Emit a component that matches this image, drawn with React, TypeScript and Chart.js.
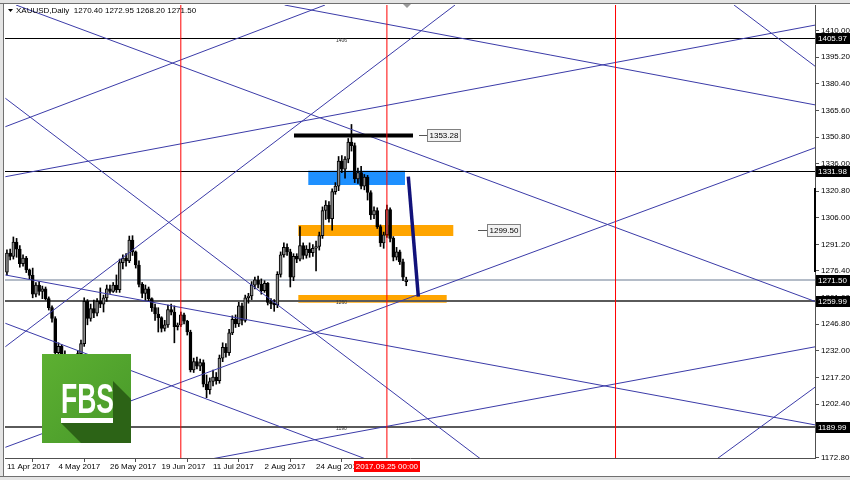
import React, { useEffect, useRef } from 'react';
import { Chart, registerables } from 'chart.js';

Chart.register(...registerables);

// ---------- data ----------
const titleText = 'XAUUSD,Daily  1270.40 1272.95 1268.20 1271.50';
const dateTickIdx = [0, 16, 32, 48, 64, 80, 96];
const dateTickLabels = ['11 Apr 2017', '4 May 2017', '26 May 2017', '19 Jun 2017', '11 Jul 2017', '2 Aug 2017', '24 Aug 2017'];
const priceTicks = [1410.0, 1395.2, 1380.4, 1365.6, 1350.8, 1336.0, 1320.8, 1306.0, 1291.2, 1276.4, 1261.6, 1246.8, 1232.0, 1217.2, 1202.4, 1187.6, 1172.8];
const crosshairLabel = '2017.09.25 00:00';
const crosshairIdx = 118;

const opens = [
  1275.8, 1286.4, 1284.5, 1292.5, 1288.5, 1280.5, 1283.5, 1277.0, 1274.0, 1263.5,
  1268.5, 1265.0, 1266.5, 1261.0, 1256.0, 1250.0, 1231.0, 1234.5, 1229.0, 1226.0,
  1220.0, 1217.0, 1221.5, 1230.5, 1236.0, 1259.5, 1250.0, 1255.5, 1253.0, 1259.5,
  1258.0, 1261.5, 1266.5, 1265.0, 1268.5, 1266.0, 1281.0, 1283.5, 1282.0, 1293.5,
  1287.0, 1279.7, 1269.0, 1264.0, 1266.5, 1261.0, 1256.0, 1252.5, 1250.5, 1244.5,
  1246.5, 1255.0, 1253.5, 1245.5, 1246.4, 1252.0, 1248.5, 1242.5, 1221.5, 1226.0,
  1223.5, 1225.5, 1213.5, 1210.5, 1215.0, 1217.5, 1215.5, 1228.0, 1234.0, 1231.0,
  1242.0, 1249.5, 1247.0, 1257.0, 1249.0, 1261.5, 1262.5, 1268.5, 1271.5, 1269.0,
  1265.5, 1269.5, 1259.0, 1258.5, 1257.5, 1274.5, 1285.3, 1289.5, 1287.0, 1273.0,
  1284.5, 1283.0, 1290.5, 1285.0, 1288.5, 1286.5, 1289.0, 1290.0, 1296.0, 1310.0,
  1313.0, 1305.5, 1320.5, 1323.5, 1337.5, 1333.0, 1338.5, 1348.0, 1346.0, 1327.5,
  1331.0, 1323.5, 1328.5, 1320.0, 1307.5, 1310.0, 1301.0, 1292.0, 1296.5, 1310.5,
  1294.5, 1284.0, 1287.0, 1281.5, 1270.4
];
const highs = [
  1288.1, 1288.5, 1295.3, 1294.5, 1290.5, 1285.3, 1284.5, 1277.5, 1278.0, 1270.0,
  1270.5, 1268.0, 1267.5, 1262.0, 1257.0, 1251.0, 1236.5, 1235.5, 1232.0, 1228.0,
  1225.0, 1223.0, 1232.0, 1238.0, 1261.5, 1260.5, 1258.0, 1260.3, 1261.0, 1267.0,
  1263.0, 1268.6, 1268.6, 1270.0, 1274.2, 1283.0, 1285.3, 1286.0, 1295.8, 1296.0,
  1287.5, 1282.0, 1270.0, 1268.6, 1267.5, 1261.5, 1258.0, 1256.0, 1251.0, 1249.0,
  1257.5, 1258.0, 1257.0, 1247.5, 1253.6, 1253.0, 1249.0, 1243.5, 1228.0, 1228.5,
  1227.5, 1227.0, 1218.6, 1217.0, 1221.4, 1220.0, 1229.7, 1236.5, 1236.0, 1244.0,
  1251.5, 1252.0, 1259.0, 1258.5, 1263.0, 1264.0, 1270.5, 1273.0, 1273.5, 1272.0,
  1271.0, 1270.0, 1261.0, 1260.5, 1276.0, 1287.0, 1292.0, 1291.5, 1288.5, 1286.0,
  1286.0, 1301.0, 1292.0, 1290.5, 1292.0, 1291.0, 1293.0, 1298.0, 1312.0, 1315.5,
  1315.0, 1322.0, 1325.5, 1340.0, 1340.5, 1340.0, 1350.0, 1357.8, 1347.5, 1333.5,
  1334.5, 1330.0, 1329.5, 1321.0, 1312.0, 1311.5, 1302.0, 1298.0, 1313.0, 1311.5,
  1295.5, 1289.5, 1288.0, 1283.0, 1272.95
];
const lows = [
  1274.2, 1282.5, 1283.0, 1284.0, 1278.5, 1279.0, 1275.5, 1272.0, 1261.5, 1262.0,
  1263.0, 1261.0, 1260.3, 1254.7, 1248.0, 1229.5, 1228.5, 1227.0, 1224.0, 1218.0,
  1214.0, 1215.5, 1220.0, 1228.5, 1234.5, 1246.5, 1248.5, 1250.5, 1251.5, 1256.0,
  1253.6, 1259.5, 1264.0, 1264.5, 1264.5, 1264.5, 1277.5, 1279.0, 1281.0, 1285.0,
  1278.0, 1267.5, 1261.5, 1260.0, 1259.5, 1254.0, 1249.0, 1242.5, 1242.5, 1243.0,
  1245.0, 1252.0, 1236.5, 1243.6, 1245.5, 1247.0, 1240.8, 1220.3, 1220.0, 1222.0,
  1221.0, 1212.0, 1206.0, 1208.0, 1212.5, 1213.5, 1214.0, 1226.0, 1228.5, 1229.5,
  1241.0, 1245.0, 1245.5, 1246.5, 1248.0, 1258.5, 1260.5, 1266.5, 1267.0, 1263.5,
  1264.5, 1257.5, 1255.5, 1254.0, 1256.0, 1273.0, 1284.0, 1285.0, 1267.5, 1271.0,
  1281.0, 1282.0, 1283.0, 1283.5, 1284.0, 1284.5, 1276.5, 1288.0, 1294.5, 1305.0,
  1303.5, 1299.0, 1319.0, 1321.0, 1331.0, 1328.0, 1336.5, 1343.0, 1325.5, 1325.0,
  1322.0, 1321.5, 1315.8, 1305.0, 1305.5, 1300.0, 1290.0, 1289.0, 1295.0, 1292.5,
  1282.0, 1282.5, 1280.0, 1271.0, 1268.2
];
const closes = [
  1286.4, 1284.5, 1292.5, 1288.5, 1280.5, 1283.5, 1277.0, 1274.0, 1263.5, 1268.5,
  1265.0, 1266.5, 1261.0, 1256.0, 1250.0, 1231.0, 1234.5, 1229.0, 1226.0, 1220.0,
  1217.0, 1221.5, 1230.5, 1236.0, 1259.5, 1250.0, 1255.5, 1253.0, 1259.5, 1258.0,
  1261.5, 1266.5, 1265.0, 1268.5, 1266.0, 1281.0, 1283.5, 1282.0, 1293.5, 1287.0,
  1279.7, 1269.0, 1264.0, 1266.5, 1261.0, 1256.0, 1252.5, 1250.5, 1244.5, 1246.5,
  1255.0, 1253.5, 1245.5, 1246.4, 1252.0, 1248.5, 1242.5, 1221.5, 1226.0, 1223.5,
  1225.5, 1213.5, 1210.5, 1215.0, 1217.5, 1215.5, 1228.0, 1234.0, 1231.0, 1242.0,
  1249.5, 1247.0, 1257.0, 1249.0, 1261.5, 1262.5, 1268.5, 1271.5, 1269.0, 1265.5,
  1269.5, 1259.0, 1258.5, 1257.5, 1274.5, 1285.3, 1289.5, 1287.0, 1273.0, 1284.5,
  1283.0, 1290.5, 1285.0, 1288.5, 1286.5, 1289.0, 1290.0, 1296.0, 1310.0, 1313.0,
  1305.5, 1320.5, 1323.5, 1337.5, 1333.0, 1338.5, 1348.0, 1346.0, 1327.5, 1331.0,
  1323.5, 1328.5, 1320.0, 1307.5, 1310.0, 1301.0, 1292.0, 1296.5, 1310.5, 1294.5,
  1284.0, 1287.0, 1281.5, 1273.0, 1271.5
];

// trend lines: [barIndex1, price1, barIndex2, price2]
const trendLines = [
  [2.82, 1424.16, 251.17, 1259.33],
  [86.23, 1424.16, 251.17, 1368.61],
  [225.8, 1424.16, 251.17, 1389.88],
  [-0.48, 1372.33, 147.54, 1171.38],
  [-0.48, 1356.55, 98.78, 1424.16],
  [-0.48, 1328.77, 251.17, 1413.05],
  [-0.48, 1274.17, 251.17, 1190.83],
  [-0.48, 1247.33, 112.32, 1171.38],
  [-0.48, 1234.33, 139.15, 1424.16],
  [-0.48, 1178.44, 251.17, 1345.0],
  [63.38, 1171.94, 251.17, 1234.33],
  [220.02, 1171.38, 251.17, 1212.11],
];
const verticalLineIdx = [54, 118, 189];
const levelPrices = [1405.97, 1331.98, 1271.5, 1259.99, 1189.99];
// zones: [idxFrom, idxTo, priceLow, priceHigh]
const blueZone = [93.59, 123.62, 1324.16, 1332.11];
const orangeZones = [
  [90.49, 138.62, 1295.83, 1301.94],
  [90.49, 136.57, 1258.77, 1263.05],
];
const peakLine = [89.15, 126.11, 1351.7];
const peakLabel = { text: '1353.28', dashFrom: 127.97, boxAt: 130.46, price: 1351.9 };
const midLabel = { text: '1299.50', dashFrom: 146.3, boxAt: 149.09, price: 1299.16 };
const arrowLine = [124.65, 1328.77, 127.76, 1262.11];
const tinyNotes = [
  { text: '1406', idx: 102.2, price: 1404.6 },
  { text: '1260', idx: 102.2, price: 1258.6 },
  { text: '1190', idx: 102.2, price: 1188.6 },
];

const X_MIN = -0.6;
const X_MAX = 250.95;
const Y_MIN = 1172.5;
const Y_MAX = 1424.16;
const FONT = "'Liberation Sans', Arial, sans-serif";
const FS = 8;

function drawLogo(ctx: CanvasRenderingContext2D) {
  const x0 = 42, y0 = 354, w = 89, h = 89;
  const g = ctx.createLinearGradient(x0, y0, x0 + w, y0 + h);
  g.addColorStop(0, '#5db031');
  g.addColorStop(1, '#47982a');
  ctx.fillStyle = g;
  ctx.fillRect(x0, y0, w, h);
  ctx.fillStyle = '#2c6316';
  ctx.beginPath();
  ctx.moveTo(61, 423);
  ctx.lineTo(113, 423);
  ctx.lineTo(113, 381);
  ctx.lineTo(131, 399);
  ctx.lineTo(131, 443);
  ctx.lineTo(81, 443);
  ctx.closePath();
  ctx.fill();
  ctx.save();
  ctx.font = `bold 43px ${FONT}`;
  ctx.textBaseline = 'alphabetic';
  ctx.textAlign = 'left';
  const m = ctx.measureText('FBS').width;
  ctx.translate(61, 413);
  ctx.scale(53 / m, 1);
  ctx.fillStyle = '#ffffff';
  ctx.fillText('FBS', 0, 0);
  ctx.restore();
  ctx.fillStyle = '#ffffff';
  ctx.fillRect(61, 418, 52, 5);
}

const mt4Plugin = {
  id: 'mt4',
  beforeDraw(chart: any) {
    const ctx = chart.ctx;
    ctx.save();
    ctx.fillStyle = '#ffffff';
    ctx.fillRect(0, 0, 850, 480);
    ctx.fillStyle = '#e4e4e4';
    ctx.fillRect(0, 0, 850, 3);
    ctx.fillRect(0, 0, 3, 480);
    ctx.fillRect(0, 477, 850, 3);
    ctx.strokeStyle = '#707070';
    ctx.lineWidth = 1;
    ctx.beginPath();
    ctx.moveTo(0, 3.5); ctx.lineTo(850, 3.5);
    ctx.moveTo(3.5, 3); ctx.lineTo(3.5, 477);
    ctx.moveTo(0, 476.5); ctx.lineTo(850, 476.5);
    ctx.stroke();
    ctx.restore();
  },
  beforeDatasetsDraw(chart: any) {
    const ctx = chart.ctx;
    const xs = chart.scales.x, ys = chart.scales.y;
    const a = chart.chartArea;
    ctx.save();
    ctx.beginPath();
    ctx.rect(a.left, a.top, a.right - a.left, a.bottom - a.top);
    ctx.clip();
    const rect = (z: number[], color: string) => {
      const x1 = xs.getPixelForValue(z[0]), x2 = xs.getPixelForValue(z[1]);
      const y1 = ys.getPixelForValue(z[3]), y2 = ys.getPixelForValue(z[2]);
      ctx.fillStyle = color;
      ctx.fillRect(x1, y1, x2 - x1, y2 - y1);
    };
    orangeZones.forEach((z) => rect(z, '#ffa500'));
    rect(blueZone, '#1e90ff');
    const styles = [
      { c: '#000000', w: 1 },
      { c: '#000000', w: 1 },
      { c: '#b4bcc8', w: 2 },
      { c: '#5a5a5a', w: 2 },
      { c: '#5a5a5a', w: 2 },
    ];
    levelPrices.forEach((p, k) => {
      const y = ys.getPixelForValue(p);
      const st = styles[k];
      ctx.strokeStyle = st.c;
      ctx.lineWidth = st.w;
      const yy = st.w === 1 ? Math.round(y) + 0.5 : Math.round(y);
      ctx.beginPath();
      ctx.moveTo(a.left, yy);
      ctx.lineTo(a.right, yy);
      ctx.stroke();
    });
    ctx.fillStyle = '#333';
    ctx.font = `5px ${FONT}`;
    ctx.textBaseline = 'middle';
    tinyNotes.forEach((n) => {
      ctx.fillText(n.text, xs.getPixelForValue(n.idx), ys.getPixelForValue(n.price));
    });
    ctx.restore();
  },
  afterDraw(chart: any) {
    const ctx = chart.ctx;
    const xs = chart.scales.x, ys = chart.scales.y;
    ctx.save();
    [peakLabel, midLabel].forEach((L) => {
      const y = Math.round(ys.getPixelForValue(L.price)) + 0.5;
      const xd = xs.getPixelForValue(L.dashFrom);
      const xb = Math.round(xs.getPixelForValue(L.boxAt)) + 0.5;
      ctx.strokeStyle = '#555';
      ctx.lineWidth = 1;
      ctx.beginPath();
      ctx.moveTo(xd, y); ctx.lineTo(xb, y);
      ctx.stroke();
      ctx.font = `${FS}px ${FONT}`;
      const tw = ctx.measureText(L.text).width;
      ctx.fillStyle = '#f2f2f2';
      ctx.fillRect(xb, y - 6, tw + 4, 12);
      ctx.strokeStyle = '#808080';
      ctx.strokeRect(xb, y - 6, tw + 4, 12);
      ctx.fillStyle = '#000';
      ctx.textBaseline = 'middle';
      ctx.textAlign = 'left';
      ctx.fillText(L.text, xb + 2, y + 0.5);
    });
    ctx.font = `${FS}px ${FONT}`;
    ctx.textBaseline = 'middle';
    ctx.textAlign = 'left';
    levelPrices.forEach((p) => {
      const y = Math.round(ys.getPixelForValue(p));
      ctx.fillStyle = '#000';
      ctx.fillRect(816, y - 5, 34, 11);
      ctx.fillStyle = '#fff';
      ctx.fillText(p.toFixed(2), 818, y + 0.5);
    });
    ctx.fillStyle = '#000';
    ctx.fillRect(814, 188, 2, 84);
    const cx = xs.getPixelForValue(crosshairIdx);
    const tw = ctx.measureText(crosshairLabel).width;
    ctx.fillStyle = '#ff0000';
    ctx.fillRect(Math.round(cx - tw / 2 - 2), 461, Math.round(tw + 4), 11);
    ctx.fillStyle = '#fff';
    ctx.textAlign = 'center';
    ctx.fillText(crosshairLabel, cx, 466.5);
    ctx.textAlign = 'left';
    ctx.fillStyle = '#000';
    ctx.beginPath();
    ctx.moveTo(8, 9); ctx.lineTo(13, 9); ctx.lineTo(10.5, 12); ctx.closePath();
    ctx.fill();
    ctx.fillText(titleText, 16, 11);
    ctx.fillStyle = '#9a9a9a';
    ctx.beginPath();
    ctx.moveTo(403, 4); ctx.lineTo(411, 4); ctx.lineTo(407, 8); ctx.closePath();
    ctx.fill();
    drawLogo(ctx);
    ctx.restore();
  },
};

export default function App() {
  const canvasRef = useRef<HTMLCanvasElement | null>(null);

  useEffect(() => {
    if (!canvasRef.current) return;
    const wickData = highs.map((h, i) => ({ x: i, y: [lows[i], h] }));
    const bodyData = opens.map((o, i) => {
      let lo = Math.min(o, closes[i]);
      let hi = Math.max(o, closes[i]);
      if (hi - lo < 0.6) { hi += 0.3; lo -= 0.3; }
      return { x: i, y: [lo, hi] };
    });
    const bodyColors = opens.map((o, i) => (closes[i] >= o ? '#8c8c8c' : '#000000'));

    const lineDs = (pts: { x: number; y: number }[], color: string, width: number, order: number) => ({
      type: 'line',
      data: pts,
      borderColor: color,
      borderWidth: width,
      pointRadius: 0,
      tension: 0,
      fill: false,
      order,
      borderCapStyle: 'butt',
    });

    const datasets: any[] = [
      { type: 'bar', data: wickData, backgroundColor: '#000000', barThickness: 1, grouped: false, order: 6 },
      {
        type: 'bar', data: bodyData, backgroundColor: bodyColors, borderColor: '#000000', borderWidth: 1,
        borderSkipped: false, barThickness: 3, grouped: false, order: 5,
      },
    ];
    trendLines.forEach((t) => {
      datasets.push(lineDs([{ x: t[0], y: t[1] }, { x: t[2], y: t[3] }], '#3b3ba8', 1, 4));
    });
    datasets.push(lineDs([{ x: peakLine[0], y: peakLine[2] }, { x: peakLine[1], y: peakLine[2] }], '#000000', 4, 3));
    datasets.push(lineDs([{ x: arrowLine[0], y: arrowLine[1] }, { x: arrowLine[2], y: arrowLine[3] }], '#12127a', 3.5, 2));
    verticalLineIdx.forEach((v) => {
      datasets.push(lineDs([{ x: v, y: Y_MIN }, { x: v, y: Y_MAX }], '#ff0000', 1, 1));
    });

    const chart = new Chart(canvasRef.current, {
      type: 'bar',
      data: { datasets },
      options: {
        animation: false,
        responsive: false,
        maintainAspectRatio: false,
        events: [],
        layout: { padding: { left: 5, top: 5, right: 0, bottom: 0 } },
        plugins: { legend: { display: false }, tooltip: { enabled: false } },
        scales: {
          x: {
            type: 'linear',
            min: X_MIN,
            max: X_MAX,
            offset: false,
            afterBuildTicks: (s: any) => { s.ticks = dateTickIdx.map((v) => ({ value: v })); },
            afterFit: (s: any) => { s.height = 22; s.paddingLeft = 0; s.paddingRight = 0; },
            grid: { drawOnChartArea: false, drawTicks: true, tickLength: 4, color: '#505050' },
            border: { display: true, color: '#505050', width: 1 },
            ticks: {
              autoSkip: false, maxRotation: 0, minRotation: 0, align: 'start', padding: 0,
              color: '#000', font: { family: FONT, size: FS },
              callback: (v: any) => {
                const k = dateTickIdx.indexOf(Number(v));
                return k >= 0 ? dateTickLabels[k] : '';
              },
            },
          },
          y: {
            type: 'linear',
            position: 'right',
            min: Y_MIN,
            max: Y_MAX,
            afterBuildTicks: (s: any) => { s.ticks = priceTicks.map((v) => ({ value: v })); },
            afterFit: (s: any) => { s.width = 35; s.paddingTop = 0; s.paddingBottom = 0; },
            grid: { drawOnChartArea: false, drawTicks: true, tickLength: 4, color: '#505050' },
            border: { display: true, color: '#505050', width: 1 },
            ticks: {
              autoSkip: false, padding: 2, color: '#000', font: { family: FONT, size: FS },
              callback: (v: any) => Number(v).toFixed(2),
            },
          },
        },
      } as any,
      plugins: [mt4Plugin],
    } as any);

    return () => { chart.destroy(); };
  }, []);

  return (
    <div style={{ position: 'fixed', left: 0, top: 0, width: 850, height: 480, background: '#fff' }}>
      <canvas ref={canvasRef} width={850} height={480} style={{ display: 'block', width: 850, height: 480 }} />
    </div>
  );
}
